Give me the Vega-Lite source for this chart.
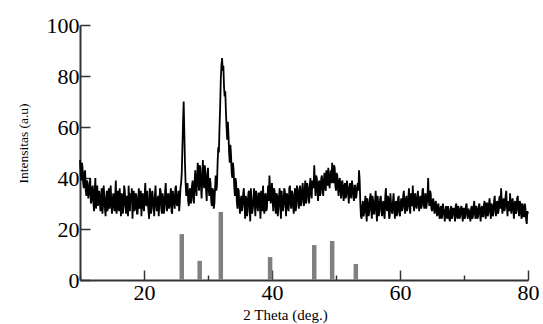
{
  "$schema": "https://vega.github.io/schema/vega-lite/v6.json",
  "width": 448,
  "height": 255,
  "autosize": "none",
  "padding": {"left": 80, "top": 25, "right": 15, "bottom": 44},
  "background": "white",
  "config": {"view": {"stroke": null}},
  "datasets": {
    "xrd": [
{"x":10.0,"y":47},{"x":10.1,"y":41},{"x":10.2,"y":39},{"x":10.3,"y":46},{"x":10.4,"y":44},{"x":10.5,"y":38},{"x":10.6,"y":36},{"x":10.7,"y":42},{"x":10.8,"y":43},{"x":10.9,"y":35},
{"x":11.0,"y":33},{"x":11.1,"y":39},{"x":11.2,"y":38},{"x":11.3,"y":32},{"x":11.4,"y":34},{"x":11.5,"y":37},{"x":11.6,"y":40},{"x":11.7,"y":30},{"x":11.8,"y":31},{"x":11.9,"y":36},
{"x":12.0,"y":37},{"x":12.1,"y":30},{"x":12.2,"y":27},{"x":12.3,"y":35},{"x":12.4,"y":40},{"x":12.5,"y":28},{"x":12.6,"y":32},{"x":12.7,"y":37},{"x":12.8,"y":29},{"x":12.9,"y":34},
{"x":13.0,"y":35},{"x":13.1,"y":30},{"x":13.2,"y":27},{"x":13.3,"y":33},{"x":13.4,"y":36},{"x":13.5,"y":26},{"x":13.6,"y":29},{"x":13.7,"y":37},{"x":13.8,"y":33},{"x":13.9,"y":28},
{"x":14.0,"y":25},{"x":14.1,"y":32},{"x":14.2,"y":35},{"x":14.3,"y":27},{"x":14.4,"y":31},{"x":14.5,"y":36},{"x":14.6,"y":28},{"x":14.7,"y":33},{"x":14.8,"y":37},{"x":14.9,"y":29},
{"x":15.0,"y":26},{"x":15.1,"y":31},{"x":15.2,"y":34},{"x":15.3,"y":29},{"x":15.4,"y":27},{"x":15.5,"y":33},{"x":15.6,"y":39},{"x":15.7,"y":26},{"x":15.8,"y":28},{"x":15.9,"y":35},
{"x":16.0,"y":30},{"x":16.1,"y":27},{"x":16.2,"y":36},{"x":16.3,"y":31},{"x":16.4,"y":25},{"x":16.5,"y":34},{"x":16.6,"y":33},{"x":16.7,"y":26},{"x":16.8,"y":29},{"x":16.9,"y":37},
{"x":17.0,"y":35},{"x":17.1,"y":29},{"x":17.2,"y":26},{"x":17.3,"y":33},{"x":17.4,"y":32},{"x":17.5,"y":25},{"x":17.6,"y":37},{"x":17.7,"y":30},{"x":17.8,"y":27},{"x":17.9,"y":34},
{"x":18.0,"y":31},{"x":18.1,"y":36},{"x":18.2,"y":24},{"x":18.3,"y":30},{"x":18.4,"y":35},{"x":18.5,"y":27},{"x":18.6,"y":28},{"x":18.7,"y":34},{"x":18.8,"y":33},{"x":18.9,"y":26},
{"x":19.0,"y":26},{"x":19.1,"y":32},{"x":19.2,"y":36},{"x":19.3,"y":28},{"x":19.4,"y":30},{"x":19.5,"y":35},{"x":19.6,"y":25},{"x":19.7,"y":31},{"x":19.8,"y":34},{"x":19.9,"y":29},
{"x":20.0,"y":27},{"x":20.1,"y":33},{"x":20.2,"y":38},{"x":20.3,"y":30},{"x":20.4,"y":29},{"x":20.5,"y":35},{"x":20.6,"y":31},{"x":20.7,"y":27},{"x":20.8,"y":24},{"x":20.9,"y":36},
{"x":21.0,"y":34},{"x":21.1,"y":26},{"x":21.2,"y":28},{"x":21.3,"y":35},{"x":21.4,"y":32},{"x":21.5,"y":29},{"x":21.6,"y":25},{"x":21.7,"y":33},{"x":21.8,"y":37},{"x":21.9,"y":30},
{"x":22.0,"y":27},{"x":22.1,"y":31},{"x":22.2,"y":33},{"x":22.3,"y":25},{"x":22.4,"y":30},{"x":22.5,"y":36},{"x":22.6,"y":35},{"x":22.7,"y":28},{"x":22.8,"y":26},{"x":22.9,"y":34},
{"x":23.0,"y":32},{"x":23.1,"y":26},{"x":23.2,"y":28},{"x":23.3,"y":35},{"x":23.4,"y":38},{"x":23.5,"y":30},{"x":23.6,"y":27},{"x":23.7,"y":33},{"x":23.8,"y":34},{"x":23.9,"y":28},
{"x":24.0,"y":29},{"x":24.1,"y":33},{"x":24.2,"y":36},{"x":24.3,"y":27},{"x":24.4,"y":26},{"x":24.5,"y":35},{"x":24.6,"y":33},{"x":24.7,"y":30},{"x":24.8,"y":28},{"x":24.9,"y":36},
{"x":25.0,"y":37},{"x":25.1,"y":30},{"x":25.2,"y":29},{"x":25.3,"y":33},{"x":25.4,"y":35},{"x":25.5,"y":27},{"x":25.6,"y":31},{"x":25.7,"y":36},{"x":25.8,"y":38},{"x":25.9,"y":42},
{"x":26.0,"y":52},{"x":26.1,"y":62},{"x":26.2,"y":70},{"x":26.3,"y":58},{"x":26.4,"y":46},{"x":26.5,"y":38},{"x":26.6,"y":33},{"x":26.7,"y":37},{"x":26.8,"y":38},{"x":26.9,"y":31},
{"x":27.0,"y":29},{"x":27.1,"y":35},{"x":27.2,"y":36},{"x":27.3,"y":30},{"x":27.4,"y":31},{"x":27.5,"y":37},{"x":27.6,"y":39},{"x":27.7,"y":33},{"x":27.8,"y":30},{"x":27.9,"y":38},
{"x":28.0,"y":43},{"x":28.1,"y":36},{"x":28.2,"y":33},{"x":28.3,"y":41},{"x":28.4,"y":46},{"x":28.5,"y":38},{"x":28.6,"y":35},{"x":28.7,"y":45},{"x":28.8,"y":44},{"x":28.9,"y":37},
{"x":29.0,"y":32},{"x":29.1,"y":40},{"x":29.2,"y":47},{"x":29.3,"y":38},{"x":29.4,"y":36},{"x":29.5,"y":45},{"x":29.6,"y":42},{"x":29.7,"y":35},{"x":29.8,"y":31},{"x":29.9,"y":41},
{"x":30.0,"y":44},{"x":30.1,"y":36},{"x":30.2,"y":33},{"x":30.3,"y":40},{"x":30.4,"y":38},{"x":30.5,"y":31},{"x":30.6,"y":29},{"x":30.7,"y":36},{"x":30.8,"y":35},{"x":30.9,"y":28},
{"x":31.0,"y":30},{"x":31.1,"y":36},{"x":31.2,"y":41},{"x":31.3,"y":35},{"x":31.4,"y":37},{"x":31.5,"y":46},{"x":31.6,"y":52},{"x":31.7,"y":50},{"x":31.8,"y":60},{"x":31.9,"y":68},
{"x":32.0,"y":79},{"x":32.1,"y":84},{"x":32.2,"y":87},{"x":32.3,"y":82},{"x":32.4,"y":84},{"x":32.5,"y":76},{"x":32.6,"y":72},{"x":32.7,"y":74},{"x":32.8,"y":66},{"x":32.9,"y":60},
{"x":33.0,"y":55},{"x":33.1,"y":62},{"x":33.2,"y":57},{"x":33.3,"y":50},{"x":33.4,"y":46},{"x":33.5,"y":53},{"x":33.6,"y":49},{"x":33.7,"y":42},{"x":33.8,"y":40},{"x":33.9,"y":46},
{"x":34.0,"y":43},{"x":34.1,"y":37},{"x":34.2,"y":33},{"x":34.3,"y":40},{"x":34.4,"y":38},{"x":34.5,"y":31},{"x":34.6,"y":28},{"x":34.7,"y":36},{"x":34.8,"y":35},{"x":34.9,"y":29},
{"x":35.0,"y":26},{"x":35.1,"y":31},{"x":35.2,"y":33},{"x":35.3,"y":27},{"x":35.4,"y":29},{"x":35.5,"y":34},{"x":35.6,"y":36},{"x":35.7,"y":30},{"x":35.8,"y":24},{"x":35.9,"y":33},
{"x":36.0,"y":32},{"x":36.1,"y":25},{"x":36.2,"y":27},{"x":36.3,"y":34},{"x":36.4,"y":35},{"x":36.5,"y":29},{"x":36.6,"y":23},{"x":36.7,"y":36},{"x":36.8,"y":31},{"x":36.9,"y":26},
{"x":37.0,"y":28},{"x":37.1,"y":32},{"x":37.2,"y":36},{"x":37.3,"y":30},{"x":37.4,"y":25},{"x":37.5,"y":35},{"x":37.6,"y":33},{"x":37.7,"y":29},{"x":37.8,"y":27},{"x":37.9,"y":34},
{"x":38.0,"y":34},{"x":38.1,"y":29},{"x":38.2,"y":24},{"x":38.3,"y":35},{"x":38.4,"y":31},{"x":38.5,"y":27},{"x":38.6,"y":37},{"x":38.7,"y":30},{"x":38.8,"y":26},{"x":38.9,"y":33},
{"x":39.0,"y":34},{"x":39.1,"y":27},{"x":39.2,"y":28},{"x":39.3,"y":33},{"x":39.4,"y":37},{"x":39.5,"y":31},{"x":39.6,"y":41},{"x":39.7,"y":36},{"x":39.8,"y":30},{"x":39.9,"y":35},
{"x":40.0,"y":38},{"x":40.1,"y":31},{"x":40.2,"y":27},{"x":40.3,"y":36},{"x":40.4,"y":35},{"x":40.5,"y":29},{"x":40.6,"y":26},{"x":40.7,"y":34},{"x":40.8,"y":33},{"x":40.9,"y":25},
{"x":41.0,"y":28},{"x":41.1,"y":33},{"x":41.2,"y":36},{"x":41.3,"y":29},{"x":41.4,"y":24},{"x":41.5,"y":35},{"x":41.6,"y":32},{"x":41.7,"y":27},{"x":41.8,"y":29},{"x":41.9,"y":36},
{"x":42.0,"y":35},{"x":42.1,"y":30},{"x":42.2,"y":25},{"x":42.3,"y":34},{"x":42.4,"y":33},{"x":42.5,"y":28},{"x":42.6,"y":27},{"x":42.7,"y":36},{"x":42.8,"y":37},{"x":42.9,"y":30},
{"x":43.0,"y":28},{"x":43.1,"y":35},{"x":43.2,"y":34},{"x":43.3,"y":29},{"x":43.4,"y":26},{"x":43.5,"y":33},{"x":43.6,"y":36},{"x":43.7,"y":27},{"x":43.8,"y":29},{"x":43.9,"y":37},
{"x":44.0,"y":35},{"x":44.1,"y":31},{"x":44.2,"y":28},{"x":44.3,"y":36},{"x":44.4,"y":37},{"x":44.5,"y":29},{"x":44.6,"y":30},{"x":44.7,"y":35},{"x":44.8,"y":38},{"x":44.9,"y":32},
{"x":45.0,"y":29},{"x":45.1,"y":35},{"x":45.2,"y":39},{"x":45.3,"y":30},{"x":45.4,"y":31},{"x":45.5,"y":38},{"x":45.6,"y":36},{"x":45.7,"y":33},{"x":45.8,"y":30},{"x":45.9,"y":37},
{"x":46.0,"y":40},{"x":46.1,"y":34},{"x":46.2,"y":32},{"x":46.3,"y":39},{"x":46.4,"y":38},{"x":46.5,"y":36},{"x":46.6,"y":45},{"x":46.7,"y":38},{"x":46.8,"y":33},{"x":46.9,"y":41},
{"x":47.0,"y":40},{"x":47.1,"y":35},{"x":47.2,"y":31},{"x":47.3,"y":38},{"x":47.4,"y":39},{"x":47.5,"y":33},{"x":47.6,"y":34},{"x":47.7,"y":40},{"x":47.8,"y":41},{"x":47.9,"y":36},
{"x":48.0,"y":33},{"x":48.1,"y":39},{"x":48.2,"y":42},{"x":48.3,"y":36},{"x":48.4,"y":35},{"x":48.5,"y":43},{"x":48.6,"y":40},{"x":48.7,"y":37},{"x":48.8,"y":44},{"x":48.9,"y":40},
{"x":49.0,"y":36},{"x":49.1,"y":41},{"x":49.2,"y":43},{"x":49.3,"y":38},{"x":49.4,"y":46},{"x":49.5,"y":42},{"x":49.6,"y":38},{"x":49.7,"y":45},{"x":49.8,"y":44},{"x":49.9,"y":37},
{"x":50.0,"y":35},{"x":50.1,"y":42},{"x":50.2,"y":41},{"x":50.3,"y":36},{"x":50.4,"y":33},{"x":50.5,"y":39},{"x":50.6,"y":40},{"x":50.7,"y":35},{"x":50.8,"y":32},{"x":50.9,"y":38},
{"x":51.0,"y":39},{"x":51.1,"y":34},{"x":51.2,"y":31},{"x":51.3,"y":37},{"x":51.4,"y":38},{"x":51.5,"y":32},{"x":51.6,"y":33},{"x":51.7,"y":39},{"x":51.8,"y":37},{"x":51.9,"y":34},
{"x":52.0,"y":30},{"x":52.1,"y":36},{"x":52.2,"y":38},{"x":52.3,"y":33},{"x":52.4,"y":32},{"x":52.5,"y":39},{"x":52.6,"y":36},{"x":52.7,"y":34},{"x":52.8,"y":31},{"x":52.9,"y":37},
{"x":53.0,"y":37},{"x":53.1,"y":32},{"x":53.2,"y":33},{"x":53.3,"y":36},{"x":53.4,"y":38},{"x":53.5,"y":35},{"x":53.6,"y":43},{"x":53.7,"y":39},{"x":53.8,"y":30},{"x":53.9,"y":25},
{"x":54.0,"y":24},{"x":54.1,"y":29},{"x":54.2,"y":31},{"x":54.3,"y":25},{"x":54.4,"y":26},{"x":54.5,"y":30},{"x":54.6,"y":33},{"x":54.7,"y":27},{"x":54.8,"y":23},{"x":54.9,"y":32},
{"x":55.0,"y":30},{"x":55.1,"y":25},{"x":55.2,"y":27},{"x":55.3,"y":32},{"x":55.4,"y":34},{"x":55.5,"y":28},{"x":55.6,"y":24},{"x":55.7,"y":33},{"x":55.8,"y":31},{"x":55.9,"y":26},
{"x":56.0,"y":26},{"x":56.1,"y":31},{"x":56.2,"y":35},{"x":56.3,"y":28},{"x":56.4,"y":23},{"x":56.5,"y":33},{"x":56.6,"y":30},{"x":56.7,"y":25},{"x":56.8,"y":28},{"x":56.9,"y":32},
{"x":57.0,"y":33},{"x":57.1,"y":27},{"x":57.2,"y":25},{"x":57.3,"y":30},{"x":57.4,"y":31},{"x":57.5,"y":26},{"x":57.6,"y":24},{"x":57.7,"y":33},{"x":57.8,"y":36},{"x":57.9,"y":28},
{"x":58.0,"y":27},{"x":58.1,"y":33},{"x":58.2,"y":32},{"x":58.3,"y":24},{"x":58.4,"y":25},{"x":58.5,"y":34},{"x":58.6,"y":30},{"x":58.7,"y":27},{"x":58.8,"y":26},{"x":58.9,"y":31},
{"x":59.0,"y":34},{"x":59.1,"y":28},{"x":59.2,"y":24},{"x":59.3,"y":30},{"x":59.4,"y":31},{"x":59.5,"y":25},{"x":59.6,"y":27},{"x":59.7,"y":32},{"x":59.8,"y":33},{"x":59.9,"y":26},
{"x":60.0,"y":25},{"x":60.1,"y":30},{"x":60.2,"y":32},{"x":60.3,"y":27},{"x":60.4,"y":28},{"x":60.5,"y":33},{"x":60.6,"y":35},{"x":60.7,"y":29},{"x":60.8,"y":26},{"x":60.9,"y":31},
{"x":61.0,"y":33},{"x":61.1,"y":27},{"x":61.2,"y":29},{"x":61.3,"y":32},{"x":61.4,"y":36},{"x":61.5,"y":28},{"x":61.6,"y":26},{"x":61.7,"y":34},{"x":61.8,"y":32},{"x":61.9,"y":29},
{"x":62.0,"y":37},{"x":62.1,"y":30},{"x":62.2,"y":27},{"x":62.3,"y":33},{"x":62.4,"y":34},{"x":62.5,"y":29},{"x":62.6,"y":28},{"x":62.7,"y":32},{"x":62.8,"y":35},{"x":62.9,"y":30},
{"x":63.0,"y":27},{"x":63.1,"y":32},{"x":63.2,"y":33},{"x":63.3,"y":28},{"x":63.4,"y":29},{"x":63.5,"y":35},{"x":63.6,"y":36},{"x":63.7,"y":30},{"x":63.8,"y":28},{"x":63.9,"y":33},
{"x":64.0,"y":34},{"x":64.1,"y":28},{"x":64.2,"y":30},{"x":64.3,"y":33},{"x":64.4,"y":40},{"x":64.5,"y":31},{"x":64.6,"y":29},{"x":64.7,"y":35},{"x":64.8,"y":34},{"x":64.9,"y":28},
{"x":65.0,"y":27},{"x":65.1,"y":31},{"x":65.2,"y":32},{"x":65.3,"y":28},{"x":65.4,"y":26},{"x":65.5,"y":30},{"x":65.6,"y":31},{"x":65.7,"y":27},{"x":65.8,"y":25},{"x":65.9,"y":29},
{"x":66.0,"y":30},{"x":66.1,"y":26},{"x":66.2,"y":24},{"x":66.3,"y":28},{"x":66.4,"y":29},{"x":66.5,"y":24},{"x":66.6,"y":25},{"x":66.7,"y":30},{"x":66.8,"y":28},{"x":66.9,"y":26},
{"x":67.0,"y":23},{"x":67.1,"y":27},{"x":67.2,"y":29},{"x":67.3,"y":25},{"x":67.4,"y":24},{"x":67.5,"y":29},{"x":67.6,"y":27},{"x":67.7,"y":24},{"x":67.8,"y":23},{"x":67.9,"y":28},
{"x":68.0,"y":29},{"x":68.1,"y":24},{"x":68.2,"y":25},{"x":68.3,"y":28},{"x":68.4,"y":28},{"x":68.5,"y":26},{"x":68.6,"y":23},{"x":68.7,"y":29},{"x":68.8,"y":30},{"x":68.9,"y":25},
{"x":69.0,"y":24},{"x":69.1,"y":29},{"x":69.2,"y":28},{"x":69.3,"y":24},{"x":69.4,"y":25},{"x":69.5,"y":28},{"x":69.6,"y":29},{"x":69.7,"y":26},{"x":69.8,"y":23},{"x":69.9,"y":28},
{"x":70.0,"y":28},{"x":70.1,"y":24},{"x":70.2,"y":25},{"x":70.3,"y":29},{"x":70.4,"y":30},{"x":70.5,"y":26},{"x":70.6,"y":24},{"x":70.7,"y":28},{"x":70.8,"y":27},{"x":70.9,"y":25},
{"x":71.0,"y":23},{"x":71.1,"y":28},{"x":71.2,"y":29},{"x":71.3,"y":24},{"x":71.4,"y":25},{"x":71.5,"y":29},{"x":71.6,"y":31},{"x":71.7,"y":26},{"x":71.8,"y":24},{"x":71.9,"y":29},
{"x":72.0,"y":28},{"x":72.1,"y":24},{"x":72.2,"y":25},{"x":72.3,"y":29},{"x":72.4,"y":30},{"x":72.5,"y":26},{"x":72.6,"y":23},{"x":72.7,"y":28},{"x":72.8,"y":29},{"x":72.9,"y":25},
{"x":73.0,"y":25},{"x":73.1,"y":29},{"x":73.2,"y":31},{"x":73.3,"y":26},{"x":73.4,"y":24},{"x":73.5,"y":30},{"x":73.6,"y":30},{"x":73.7,"y":25},{"x":73.8,"y":26},{"x":73.9,"y":30},
{"x":74.0,"y":32},{"x":74.1,"y":27},{"x":74.2,"y":24},{"x":74.3,"y":30},{"x":74.4,"y":29},{"x":74.5,"y":25},{"x":74.6,"y":26},{"x":74.7,"y":31},{"x":74.8,"y":33},{"x":74.9,"y":28},
{"x":75.0,"y":25},{"x":75.1,"y":30},{"x":75.2,"y":31},{"x":75.3,"y":26},{"x":75.4,"y":27},{"x":75.5,"y":32},{"x":75.6,"y":33},{"x":75.7,"y":28},{"x":75.8,"y":36},{"x":75.9,"y":30},
{"x":76.0,"y":26},{"x":76.1,"y":31},{"x":76.2,"y":32},{"x":76.3,"y":27},{"x":76.4,"y":28},{"x":76.5,"y":33},{"x":76.6,"y":35},{"x":76.7,"y":29},{"x":76.8,"y":25},{"x":76.9,"y":31},
{"x":77.0,"y":30},{"x":77.1,"y":27},{"x":77.2,"y":34},{"x":77.3,"y":29},{"x":77.4,"y":26},{"x":77.5,"y":31},{"x":77.6,"y":32},{"x":77.7,"y":28},{"x":77.8,"y":24},{"x":77.9,"y":30},
{"x":78.0,"y":31},{"x":78.1,"y":26},{"x":78.2,"y":27},{"x":78.3,"y":32},{"x":78.4,"y":33},{"x":78.5,"y":28},{"x":78.6,"y":25},{"x":78.7,"y":31},{"x":78.8,"y":30},{"x":78.9,"y":26},
{"x":79.0,"y":24},{"x":79.1,"y":30},{"x":79.2,"y":29},{"x":79.3,"y":25},{"x":79.4,"y":25},{"x":79.5,"y":30},{"x":79.6,"y":28},{"x":79.7,"y":24},{"x":79.8,"y":22},{"x":79.9,"y":27},
{"x":80.0,"y":26}
    ],
    "ref": [
      {"x":25.9,"h":18},{"x":28.7,"h":7.5},{"x":32.0,"h":26.7},{"x":39.7,"h":9},
      {"x":46.6,"h":13.7},{"x":49.4,"h":15.3},{"x":53.1,"h":6.3}
    ]
  },
  "layer": [
    {
      "data": {"name": "ref"},
      "mark": {"type": "rule", "color": "#808080", "strokeWidth": 4.5},
      "encoding": {
        "x": {"field": "x", "type": "quantitative"},
        "y": {"field": "h", "type": "quantitative"},
        "y2": {"datum": 0}
      }
    },
    {
      "data": {"name": "xrd"},
      "mark": {"type": "line", "color": "black", "strokeWidth": 1.8, "interpolate": "linear"},
      "encoding": {
        "x": {
          "field": "x", "type": "quantitative",
          "scale": {"domain": [10, 80], "nice": false, "zero": false},
          "axis": {
            "title": "2 Theta (deg.)",
            "values": [10, 20, 30, 40, 50, 60, 70, 80],
            "labelExpr": "datum.value % 20 == 0 ? datum.label : ''",
            "grid": false,
            "domainColor": "#333333", "domainWidth": 2,
            "tickColor": "#333333", "tickWidth": 1.5,
            "tickSize": {"condition": {"test": "datum.value % 20 == 0", "value": -10}, "value": -5},
            "labelFont": "Liberation Serif", "labelFontSize": 22, "labelColor": "black",
            "labelPadding": 12, "labelFlush": false,
            "titleFont": "Liberation Serif", "titleFontSize": 15, "titleFontWeight": "normal", "titleColor": "black",
            "titlePadding": 4, "titleX": 205
          }
        },
        "y": {
          "field": "y", "type": "quantitative",
          "scale": {"domain": [0, 100], "nice": false},
          "axis": {
            "title": "Intensitas (a.u)",
            "values": [0, 10, 20, 30, 40, 50, 60, 70, 80, 90, 100],
            "labelExpr": "datum.value % 20 == 0 ? datum.label : ''",
            "grid": false,
            "domainColor": "#333333", "domainWidth": 2,
            "tickColor": "#333333", "tickWidth": 1.5,
            "tickSize": {"condition": {"test": "datum.value % 20 == 0", "value": -10}, "value": -5},
            "labelFont": "Liberation Serif", "labelFontSize": 22, "labelColor": "black",
            "labelPadding": 11, "labelFlush": false,
            "titleFont": "Liberation Serif", "titleFontSize": 13.5, "titleFontWeight": "normal", "titleColor": "black",
            "titlePadding": 16, "titleY": 118
          }
        }
      }
    }
  ]
}
